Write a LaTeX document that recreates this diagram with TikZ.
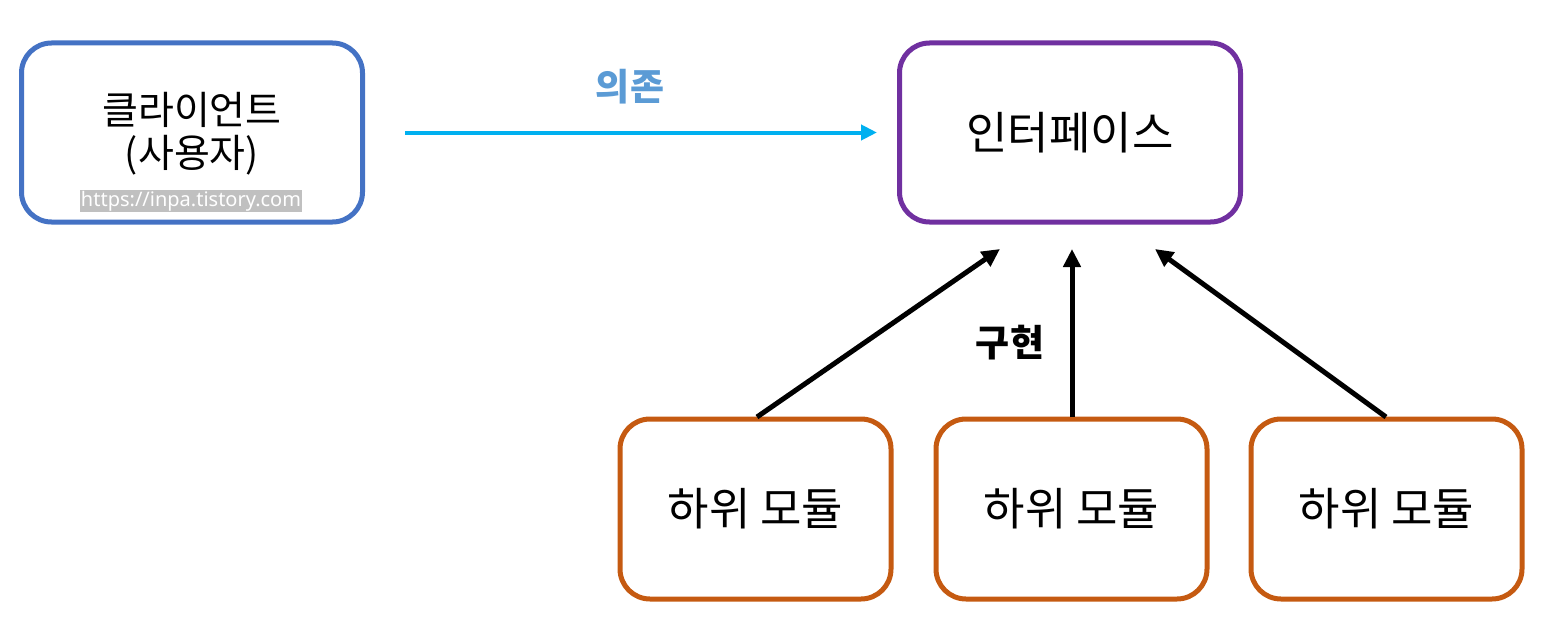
\documentclass[tikz,border=0pt]{standalone}
\usepackage{fontspec}
\setmainfont{Noto Sans CJK KR}
\newfontfamily\wmfont{Noto Sans}
\usetikzlibrary{arrows.meta}
\definecolor{cblue}{HTML}{4472C4}
\definecolor{cpurple}{HTML}{7030A0}
\definecolor{corange}{HTML}{C55A11}
\definecolor{ccyan}{HTML}{00B0F0}
\definecolor{clabel}{HTML}{5B9BD5}
\definecolor{cgray}{HTML}{C0C0C0}
\tikzset{
  box/.style={draw, line width=5pt, rounded corners=30pt, inner sep=0pt, align=center},
  bigbox/.style={box, minimum width=341pt, minimum height=179pt},
  subbox/.style={box, draw=corange, minimum width=271pt, minimum height=180pt, font=\fontsize{45}{52}\selectfont},
  impl/.style={line width=5pt, -{Triangle[length=18pt,width=17pt]}},
  lbl/.style={font=\bfseries\fontsize{37}{42}\selectfont},
}
\begin{document}
\begin{tikzpicture}[x=1pt,y=-1pt]
\useasboundingbox (0,0) rectangle (1542,626);
\node[bigbox, draw=cblue] (client) at (192,132.5) {};
\node (clientt1) at (192,110) {\fontsize{39}{44}\selectfont 클라이언트};
\node (clientt2) at (192,155) {\fontsize{39}{44}\selectfont (사용자)};
\node[fill=cgray, text=white, inner xsep=1pt, inner ysep=1pt, font=\wmfont\fontsize{20}{24}\selectfont] (wm) at (191,201) {https://inpa.tistory.com};
\node[bigbox, draw=cpurple, font=\fontsize{45}{52}\selectfont] (iface) at (1070,132.5) {인터페이스};
\node[subbox] (sub1) at (755.5,509) {하위 모듈};
\node[subbox] (sub2) at (1071.5,509) {하위 모듈};
\node[subbox] (sub3) at (1386.5,509) {하위 모듈};
\coordinate (e1) at (1000,249);
\coordinate (e2) at (1072,249);
\coordinate (e3) at (1155,249);
\coordinate (s1) at (757,417);
\coordinate (s2) at (1072,417);
\coordinate (s3) at (1386,417);
\draw[impl] (s1) -- (e1);
\draw[impl] (s2) -- (e2);
\draw[impl] (s3) -- (e3);
\draw[ccyan, line width=4pt, -{Triangle[length=16pt,width=15pt]}, shorten <=40pt, shorten >=20pt] (client.east |- iface.west) -- (iface.west);
\node[lbl, text=clabel] (dep) at (630,87) {의존};
\node[lbl] (implt) at (1010,343) {구현};
\end{tikzpicture}
\end{document}
